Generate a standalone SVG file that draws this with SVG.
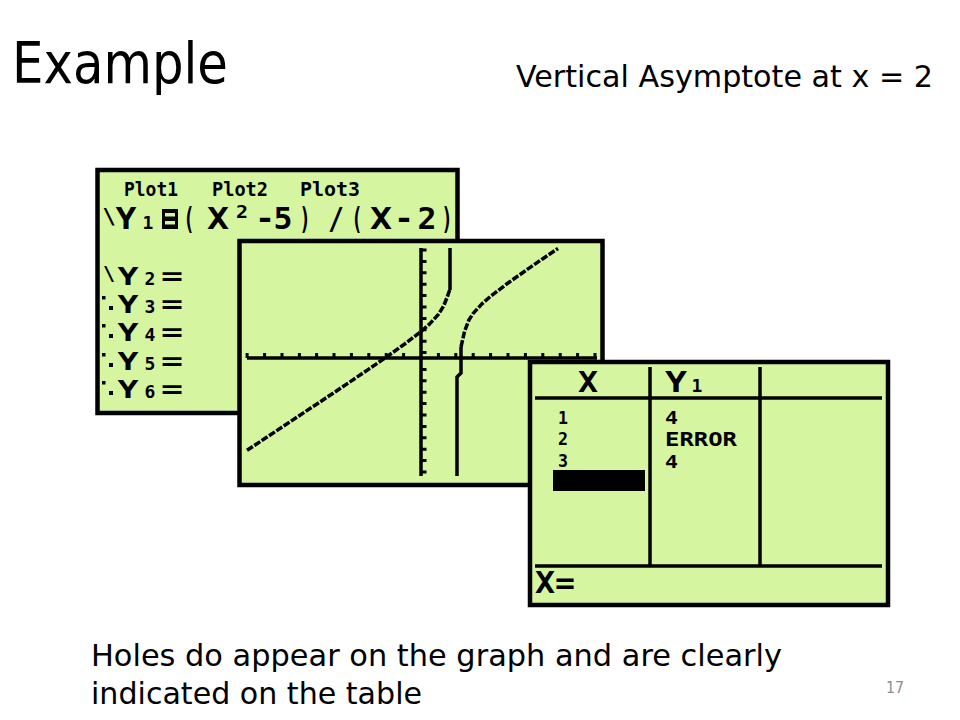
<svg xmlns="http://www.w3.org/2000/svg" width="960" height="720" viewBox="0 0 960 720">
<defs>
<style>
.slide{font-family:"DejaVu Sans","Liberation Sans",sans-serif;fill:#000}
.lcd{fill:#d5f5a0;stroke:#000;stroke-width:4.5}
.ti{font-family:"DejaVu Sans Mono","Liberation Mono",monospace;font-weight:bold;fill:#000;text-anchor:middle}
.big{font-size:30px}
.row{font-size:24px}
.sub{font-size:18px}
.ln{stroke:#000;stroke-width:3.5;fill:none}
.curve{stroke:#000;stroke-width:3.5;fill:none;stroke-linejoin:round;stroke-dasharray:7 1.8}
</style>
</defs>
<rect width="960" height="720" fill="#fff"/>

<g id="title"><text class="slide" x="12" y="83" font-size="57" textLength="216" lengthAdjust="spacingAndGlyphs">Example</text></g>
<g id="subtitle"><text class="slide" x="516" y="87" font-size="31" textLength="417" lengthAdjust="spacingAndGlyphs">Vertical Asymptote at x = 2</text></g>

<g id="screen-y-editor">
<rect class="lcd" x="97.5" y="170" width="360" height="243"/>
<text class="ti" x="151" y="196" font-size="19" textLength="54" lengthAdjust="spacingAndGlyphs">Plot1</text>
<text class="ti" x="240" y="196" font-size="19" textLength="56" lengthAdjust="spacingAndGlyphs">Plot2</text>
<text class="ti" x="330" y="196" font-size="19" textLength="60" lengthAdjust="spacingAndGlyphs">Plot3</text>
<text class="ti" x="109" y="224" font-size="22">\</text>
<text class="ti big" x="126" y="229" textLength="21" lengthAdjust="spacingAndGlyphs">Y</text>
<text class="ti sub" x="148" y="229">1</text>
<rect x="162" y="209" width="16" height="20" fill="#000"/>
<rect x="165" y="213" width="10" height="3.5" fill="#d5f5a0"/>
<rect x="165" y="221" width="10" height="3.5" fill="#d5f5a0"/>
<text class="ti big" x="189" y="229" textLength="11" lengthAdjust="spacingAndGlyphs">(</text>
<text class="ti big" x="218" y="229" textLength="22" lengthAdjust="spacingAndGlyphs">X</text>
<text class="ti" x="242" y="218" font-size="18" textLength="12" lengthAdjust="spacingAndGlyphs">2</text>
<text class="ti big" x="265" y="229" textLength="20" lengthAdjust="spacingAndGlyphs">-</text>
<text class="ti big" x="283" y="229" textLength="19" lengthAdjust="spacingAndGlyphs">5</text>
<text class="ti big" x="305" y="229" textLength="11" lengthAdjust="spacingAndGlyphs">)</text>
<text class="ti big" x="336" y="229" textLength="16" lengthAdjust="spacingAndGlyphs">/</text>
<text class="ti big" x="357" y="229" textLength="11" lengthAdjust="spacingAndGlyphs">(</text>
<text class="ti big" x="381" y="229" textLength="22" lengthAdjust="spacingAndGlyphs">X</text>
<text class="ti big" x="404" y="229" textLength="20" lengthAdjust="spacingAndGlyphs">-</text>
<text class="ti big" x="427" y="229" textLength="19" lengthAdjust="spacingAndGlyphs">2</text>
<text class="ti big" x="447" y="229" textLength="11" lengthAdjust="spacingAndGlyphs">)</text>

<text class="ti" x="109" y="280" font-size="20">\</text>
<text class="ti row" x="128" y="285" textLength="21" lengthAdjust="spacingAndGlyphs">Y</text>
<text class="ti sub" x="150" y="285">2</text>
<text class="ti row" x="172" y="285" textLength="22" lengthAdjust="spacingAndGlyphs">=</text>

<g fill="#000">
<rect x="102" y="296" width="3.5" height="3.5"/><rect x="109" y="306" width="4" height="4"/>
<rect x="102" y="324" width="3.5" height="3.5"/><rect x="109" y="334" width="4" height="4"/>
<rect x="102" y="353" width="3.5" height="3.5"/><rect x="109" y="363" width="4" height="4"/>
<rect x="102" y="381" width="3.5" height="3.5"/><rect x="109" y="391" width="4" height="4"/>
</g>
<text class="ti row" x="128" y="313" textLength="21" lengthAdjust="spacingAndGlyphs">Y</text>
<text class="ti sub" x="150" y="313">3</text>
<text class="ti row" x="172" y="313" textLength="22" lengthAdjust="spacingAndGlyphs">=</text>
<text class="ti row" x="128" y="341" textLength="21" lengthAdjust="spacingAndGlyphs">Y</text>
<text class="ti sub" x="150" y="341">4</text>
<text class="ti row" x="172" y="341" textLength="22" lengthAdjust="spacingAndGlyphs">=</text>
<text class="ti row" x="128" y="370" textLength="21" lengthAdjust="spacingAndGlyphs">Y</text>
<text class="ti sub" x="150" y="370">5</text>
<text class="ti row" x="172" y="370" textLength="22" lengthAdjust="spacingAndGlyphs">=</text>
<text class="ti row" x="128" y="398" textLength="21" lengthAdjust="spacingAndGlyphs">Y</text>
<text class="ti sub" x="150" y="398">6</text>
<text class="ti row" x="172" y="398" textLength="22" lengthAdjust="spacingAndGlyphs">=</text>
</g>

<g id="screen-graph">
<rect class="lcd" x="239.5" y="241" width="363" height="244"/>
<line class="ln" x1="247" y1="358" x2="597" y2="358"/>
<line class="ln" x1="421" y1="248" x2="421" y2="476"/>
<path stroke="#000" stroke-width="3" d="M247.1,358V353M264.6,358V353M282,358V353M299.4,358V353M316.6,358V353M334,358V353M351.4,358V353M368.8,358V353M386.2,358V353M403.6,358V353M438.4,358V353M455.8,358V353M473.2,358V353M490.6,358V353M508,358V353M525.4,358V353M542.8,358V353M560.2,358V353M577.6,358V353M595,358V353"/>
<path stroke="#000" stroke-width="3" d="M421,250H426.5M421,261.4H426.5M421,272.8H426.5M421,284.2H426.5M421,295.6H426.5M421,307H426.5M421,318.4H426.5M421,329.8H426.5M421,341.2H426.5M421,352.6H426.5M421,369.4H426.5M421,380.8H426.5M421,392.2H426.5M421,403.6H426.5M421,415H426.5M421,426.4H426.5M421,437.8H426.5M421,449.2H426.5M421,460.6H426.5M421,472H426.5"/>
<path class="curve" d="M247,450.3L264.4,438.8L281.8,427.3L299.2,415.7L316.6,404.2L334,392.6L351.4,380.9L368.8,369.1L386.2,357.2L403.6,344.8L421,331.5L429.7,323.9L438.4,314.4L443.6,306.1L447.1,297.3L450,289"/>
<path class="ln" d="M450,290V248"/>
<path class="ln" d="M457,476V377L461,373V347"/>
<path class="curve" d="M461,347L464.5,331.5L468.9,320L473.2,313.4L481.9,303.9L490.6,296.3L508,283L525.4,270.7L542.8,258.7L558,248.5"/>
</g>

<g id="screen-table">
<rect class="lcd" x="530" y="362" width="358" height="243"/>
<line class="ln" x1="650" y1="367" x2="650" y2="566"/>
<line class="ln" x1="760" y1="367" x2="760" y2="566"/>
<line class="ln" x1="535" y1="398" x2="882" y2="398"/>
<line class="ln" x1="535" y1="566" x2="882" y2="566"/>
<text class="ti" x="588" y="392" font-size="28" textLength="20" lengthAdjust="spacingAndGlyphs">X</text>
<text class="ti" x="676" y="392" font-size="28" textLength="22" lengthAdjust="spacingAndGlyphs">Y</text>
<text class="ti" x="697" y="392" font-size="18">1</text>
<text class="ti" x="563" y="424" font-size="17" textLength="10" lengthAdjust="spacingAndGlyphs">1</text>
<text class="ti" x="563" y="445" font-size="17" textLength="10" lengthAdjust="spacingAndGlyphs">2</text>
<text class="ti" x="563" y="467" font-size="17" textLength="10" lengthAdjust="spacingAndGlyphs">3</text>
<rect x="553" y="470" width="92" height="21" fill="#000"/>
<text class="ti" x="671.5" y="424" font-size="17" textLength="13" lengthAdjust="spacingAndGlyphs">4</text>
<text class="ti" x="701" y="446" font-size="19" textLength="72" lengthAdjust="spacingAndGlyphs">ERROR</text>
<text class="ti" x="671.5" y="468" font-size="17" textLength="13" lengthAdjust="spacingAndGlyphs">4</text>
<text class="ti" x="555" y="593" font-size="30" textLength="40" lengthAdjust="spacingAndGlyphs">X=</text>
</g>

<g id="caption">
<text class="slide" x="91" y="666" font-size="31" textLength="691" lengthAdjust="spacingAndGlyphs">Holes do appear on the graph and are clearly</text>
<text class="slide" x="91" y="704" font-size="31" textLength="331" lengthAdjust="spacingAndGlyphs">indicated on the table</text>
</g>
<g id="page-number"><text x="886" y="693" font-family="DejaVu Sans, sans-serif" font-size="16" fill="#8c8c8c" textLength="18" lengthAdjust="spacingAndGlyphs">17</text></g>
</svg>
